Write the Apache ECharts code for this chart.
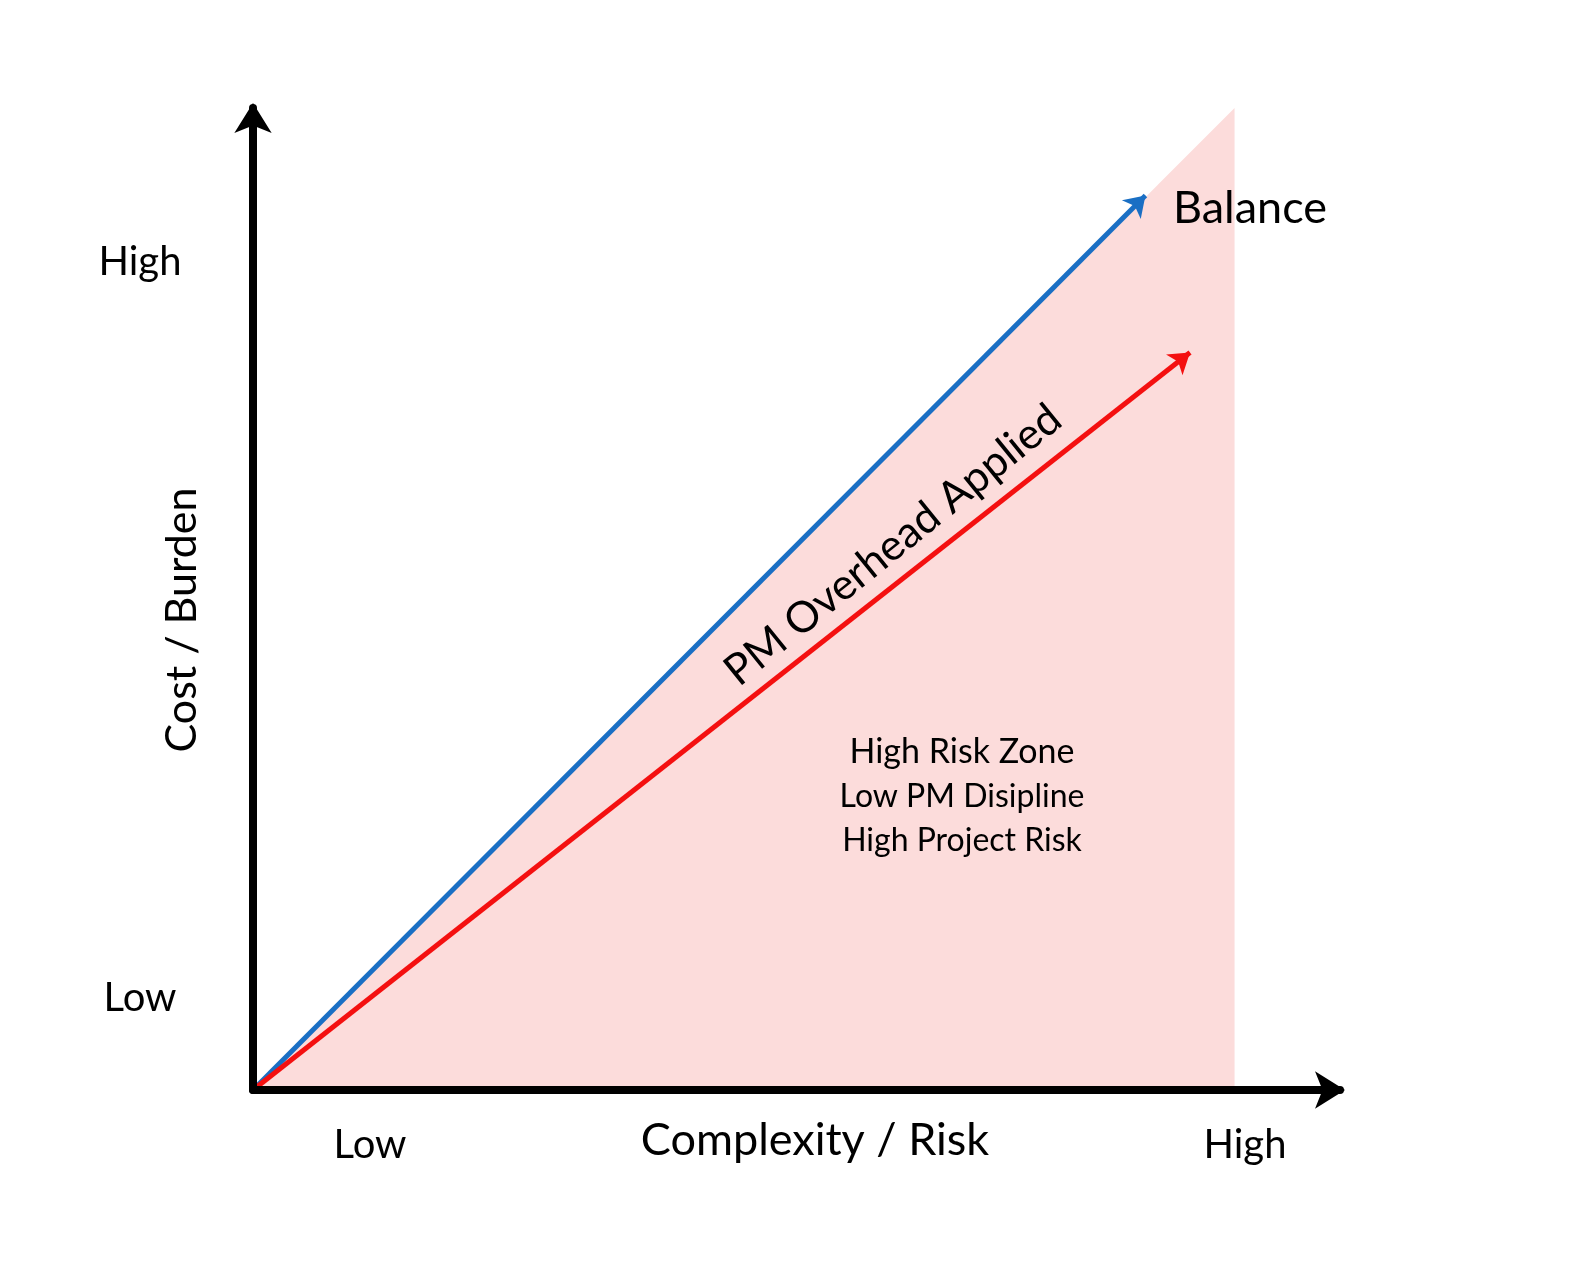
<!DOCTYPE html>
<html>
<head>
<meta charset="utf-8">
<script src="https://cdn.jsdelivr.net/npm/echarts@6/dist/echarts.min.js"></script>
<style>
  html, body { margin: 0; padding: 0; background: #fff; }
  #chart { width: 1579px; height: 1262px; }
</style>
</head>
<body>
<div id="chart"></div>
<script>
// zone and arrows in 0..100 units (complexity, cost)
const zonePoints = [[0, 0], [90.3, 100], [90.3, 0]];
const balanceArrow = [[0, 0], [82.1, 91.1]];
const pmArrow = [[0, 0], [86.2, 75.1]];
const zoneLines = ['High Risk Zone', 'Low PM Disipline', 'High Project Risk'];

const chart = echarts.init(document.getElementById('chart'));
const font = 'Lato, "Open Sans", sans-serif';

function txt(x, y, text, size, extra) {
    return Object.assign({
        type: 'text', x: x, y: y, z: 100,
        style: { text: text, fontSize: size, fontFamily: font, fill: '#000', align: 'center', verticalAlign: 'middle' }
    }, extra || {});
}

const axisCommon = {
    type: 'value', min: 0, max: 100, z: 10,
    splitLine: { show: false },
    axisTick: { show: false },
    axisLabel: { show: false },
    axisLine: {
        show: true,
        symbol: ['none', 'arrow'],
        symbolSize: [28, 30],
        symbolOffset: [0, 5],
        lineStyle: { color: '#000', width: 8 }
    }
};

chart.setOption({
    animation: false,
    grid: { left: 253, right: 239, top: 108, bottom: 172 },
    xAxis: axisCommon,
    yAxis: axisCommon,
    series: [
        {
            type: 'line',
            data: zonePoints,
            symbol: 'none',
            lineStyle: { width: 0, color: '#fcdcdb' },
            areaStyle: { color: '#fcdcdb', opacity: 1 },
            z: 1
        },
        {
            type: 'lines',
            coordinateSystem: 'cartesian2d',
            symbol: ['none', 'arrow'],
            symbolSize: 20,
            data: [
                { coords: balanceArrow, lineStyle: { color: '#1a6fc4', width: 5, opacity: 1 } },
                { coords: pmArrow, lineStyle: { color: '#f41010', width: 5, opacity: 1 } }
            ],
            z: 3
        }
    ],
    graphic: [
        txt(140, 262, 'High', 40),
        txt(140, 998, 'Low', 40),
        txt(182, 620, 'Cost / Burden', 43, { rotation: Math.PI / 2 }),
        txt(370, 1145, 'Low', 40),
        txt(815, 1140, 'Complexity / Risk', 45),
        txt(1245, 1145, 'High', 40),
        txt(1250, 208, 'Balance', 45),
        txt(893, 545, 'PM Overhead Applied', 43, { rotation: 39 * Math.PI / 180 }),
        txt(962, 752, zoneLines[0], 34),
        txt(962, 797, zoneLines[1], 32),
        txt(962, 841, zoneLines[2], 32)
    ]
});
</script>
</body>
</html>
